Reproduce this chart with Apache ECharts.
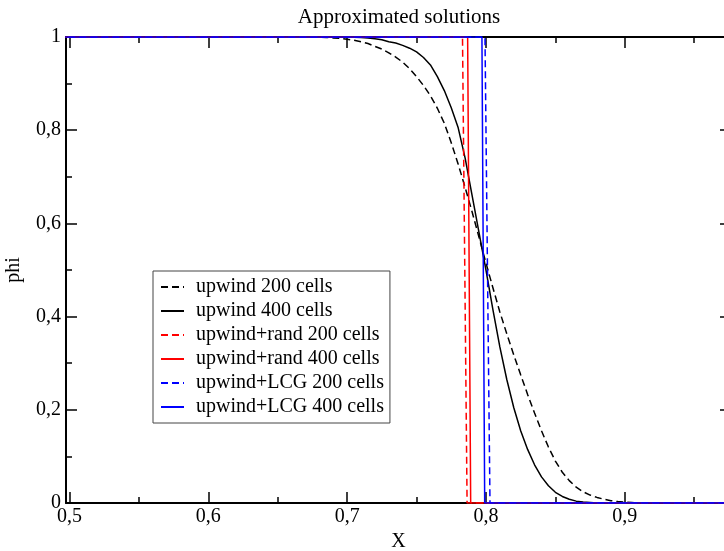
<!DOCTYPE html>
<html>
<head>
<meta charset="utf-8">
<script src="https://cdn.jsdelivr.net/npm/echarts@6/dist/echarts.min.js"></script>
<style>html,body{margin:0;padding:0;background:#fff}#c{width:724px;height:551px}</style>
</head>
<body>
<div id="c"></div>
<script>
// ---- data ----
const seriesNames = ['upwind 200 cells','upwind 400 cells','upwind+rand 200 cells','upwind+rand 400 cells','upwind+LCG 200 cells','upwind+LCG 400 cells'];
const upwind200 = [[0.0,1],[0.68,1],[0.685,0.999],[0.69,0.998],[0.695,0.997],[0.70,0.995],[0.705,0.993],[0.71,0.99],[0.715,0.986],[0.72,0.98],[0.725,0.974],[0.73,0.966],[0.735,0.957],[0.74,0.946],[0.745,0.932],[0.75,0.915],[0.755,0.896],[0.76,0.874],[0.765,0.847],[0.77,0.815],[0.775,0.773],[0.78,0.727],[0.785,0.677],[0.79,0.625],[0.795,0.570],[0.80,0.515],[0.805,0.462],[0.81,0.41],[0.815,0.363],[0.82,0.318],[0.825,0.275],[0.83,0.233],[0.835,0.193],[0.84,0.155],[0.845,0.12],[0.85,0.09],[0.855,0.066],[0.86,0.048],[0.865,0.034],[0.87,0.024],[0.875,0.017],[0.88,0.012],[0.885,0.008],[0.89,0.005],[0.895,0.003],[0.90,0.002],[0.905,0.001],[0.91,0],[1.0,0]];
const upwind400 = [[0.0,1],[0.70,1],[0.705,0.9995],[0.71,0.999],[0.715,0.998],[0.72,0.996],[0.725,0.994],[0.73,0.99],[0.735,0.987],[0.74,0.982],[0.745,0.976],[0.75,0.968],[0.755,0.956],[0.76,0.94],[0.765,0.915],[0.77,0.885],[0.775,0.848],[0.78,0.805],[0.785,0.74],[0.79,0.66],[0.795,0.58],[0.80,0.50],[0.805,0.415],[0.81,0.335],[0.815,0.265],[0.82,0.205],[0.825,0.155],[0.83,0.115],[0.835,0.082],[0.84,0.056],[0.845,0.037],[0.85,0.023],[0.855,0.014],[0.86,0.008],[0.865,0.004],[0.87,0.002],[0.875,0.001],[0.88,0],[1.0,0]];
const rand200 = [[0.0,1],[0.7831,1],[0.7864,0],[1.0,0]];
const rand400 = [[0.0,1],[0.7868,1],[0.7890,0],[1.0,0]];
const lcg200 = [[0.0,1],[0.7993,1],[0.8029,0],[1.0,0]];
const lcg400 = [[0.0,1],[0.7971,1],[0.7991,0],[1.0,0]];
const xMajorTicks = [0.5,0.6,0.7,0.8,0.9];
const xMinorTicks = [0.55,0.65,0.75,0.85,0.95];

const FONT = 'Liberation Serif';
const fmt = v => String(+v.toFixed(2)).replace('.', ',');
const axisLine = {show:true, lineStyle:{color:'#000', width:2}};
const xBase = {type:'value', min:0.4975, max:0.9765, splitLine:{show:false}};

const chart = echarts.init(document.getElementById('c'), null, {renderer:'canvas'});
chart.setOption({
  animation:false,
  backgroundColor:'#fff',
  title:{text:'Approximated solutions', left:394, top:2, textAlign:'center',
    textStyle:{fontFamily:FONT, fontSize:21, fontWeight:'normal', color:'#000'}},
  grid:{left:66, top:37, width:665, height:466, containLabel:false, outerBoundsMode:'none'},
  legend:{
    orient:'vertical', left:153, top:271,
    data:seriesNames,
    itemWidth:23, itemHeight:10, itemGap:4,
    padding:[6,6,6,7],
    borderColor:'#444', borderWidth:1, backgroundColor:'#fff',
    itemStyle:{opacity:0},
    textStyle:{fontFamily:FONT, fontSize:20, color:'#000', lineHeight:20, padding:[0,0,0,7]}
  },
  xAxis:[
    Object.assign({}, xBase, {position:'bottom', axisLine:axisLine,
      axisTick:{show:true, inside:true, length:11, customValues:xMajorTicks, lineStyle:{color:'#000', width:1.5}},
      axisLabel:{show:true, customValues:xMajorTicks, formatter:fmt, margin:4, fontFamily:FONT, fontSize:20, color:'#000'},
      name:'X', nameLocation:'middle', nameGap:27, nameTextStyle:{fontFamily:FONT, fontSize:20, color:'#000'}}),
    Object.assign({}, xBase, {position:'bottom', axisLine:{show:false},
      axisTick:{show:true, inside:true, length:6, customValues:xMinorTicks, lineStyle:{color:'#000', width:1.5}},
      axisLabel:{show:false}}),
    Object.assign({}, xBase, {position:'top', axisLine:axisLine,
      axisTick:{show:true, inside:true, length:11, customValues:xMajorTicks, lineStyle:{color:'#000', width:1.5}},
      axisLabel:{show:false}}),
    Object.assign({}, xBase, {position:'top', axisLine:{show:false},
      axisTick:{show:true, inside:true, length:6, customValues:xMinorTicks, lineStyle:{color:'#000', width:1.5}},
      axisLabel:{show:false}})
  ],
  yAxis:[
    {type:'value', position:'left', min:0, max:1, interval:0.2, splitLine:{show:false}, axisLine:axisLine,
     axisTick:{show:true, inside:true, length:11, lineStyle:{color:'#000', width:1.5}},
     minorTick:{show:true, splitNumber:2, length:6, lineStyle:{color:'#000', width:1.5}},
     axisLabel:{formatter:fmt, margin:5, fontFamily:FONT, fontSize:20, color:'#000'},
     name:'phi', nameLocation:'middle', nameGap:42, nameRotate:90, nameTextStyle:{fontFamily:FONT, fontSize:20, color:'#000'}},
    {type:'value', position:'right', min:0, max:1, interval:0.2, splitLine:{show:false}, axisLine:axisLine,
     axisTick:{show:true, inside:true, length:11, lineStyle:{color:'#000', width:1.5}},
     minorTick:{show:true, splitNumber:2, length:6, lineStyle:{color:'#000', width:1.5}},
     axisLabel:{show:false}}
  ],
  series:[
    {name:seriesNames[0], type:'line', data:upwind200, symbol:'none', lineStyle:{color:'#000', width:1.5, type:[7,4]}, itemStyle:{color:'#000'}},
    {name:seriesNames[1], type:'line', data:upwind400, symbol:'none', lineStyle:{color:'#000', width:1.5, type:'solid'}, itemStyle:{color:'#000'}},
    {name:seriesNames[2], type:'line', data:rand200, symbol:'none', lineStyle:{color:'#ff0000', width:1.5, type:[7,4]}, itemStyle:{color:'#ff0000'}},
    {name:seriesNames[3], type:'line', data:rand400, symbol:'none', lineStyle:{color:'#ff0000', width:1.5, type:'solid'}, itemStyle:{color:'#ff0000'}},
    {name:seriesNames[4], type:'line', data:lcg200, symbol:'none', lineStyle:{color:'#0000ff', width:1.5, type:[7,4]}, itemStyle:{color:'#0000ff'}},
    {name:seriesNames[5], type:'line', data:lcg400, symbol:'none', lineStyle:{color:'#0000ff', width:1.5, type:'solid'}, itemStyle:{color:'#0000ff'}}
  ]
});
</script>
</body>
</html>
